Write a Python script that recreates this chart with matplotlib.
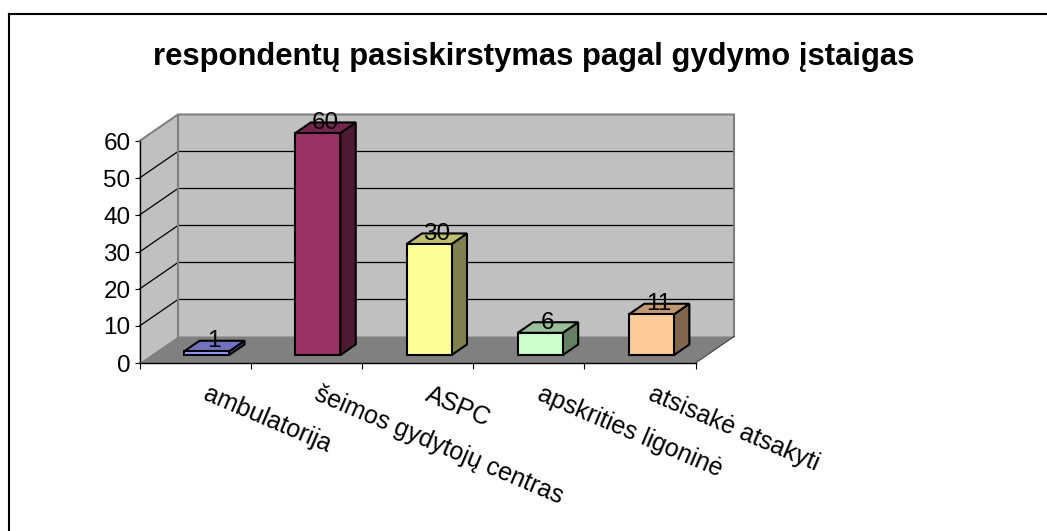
import matplotlib
matplotlib.use('Agg')
import matplotlib.pyplot as plt
from matplotlib.lines import Line2D
from matplotlib.patches import Polygon

categories = ['ambulatorija', 'šeimos gydytojų centras', 'ASPC', 'apskrities ligoninė', 'atsisakė atsakyti']
values = [1, 60, 30, 6, 11]
yticks = [0, 10, 20, 30, 40, 50, 60]
title = 'respondentų pasiskirstymas pagal gydymo įstaigas'

# front, top, side colour of each bar
front_colors = ['#9999FF', '#993366', '#FFFF99', '#CCFFCC', '#FFCC99']
top_colors = ['#7272BF', '#73264C', '#BFBF72', '#99BF99', '#BF9972']
side_colors = ['#4D4D80', '#4D1A33', '#808050', '#668066', '#80664D']

W, H = 1047, 531
plt.rcParams['font.family'] = ['Liberation Sans', 'DejaVu Sans']

fig = plt.figure(figsize=(W/100, H/100), dpi=100)
ax = fig.add_axes([139.5/W, 1-363/H, 556/W, 222/H])
ax.set_xlim(0, 5)
ax.set_ylim(0, 60)

# oblique offset of the back wall, in data units
dx = 38.5/(556/5)
dy = 26.5/(222/60)

def pt(x, y, d=0):
    return (x + d*dx, y + d*dy)

def face(points, fc, ec='none', lw=0, z=1):
    ax.add_patch(Polygon(points, closed=True, fc=fc, ec=ec, lw=lw, zorder=z,
                         clip_on=False, joinstyle='miter'))

# walls and floor
face([pt(0, 0, 1), pt(5, 0, 1), pt(5, 60, 1), pt(0, 60, 1)], '#C0C0C0')
face([pt(0, 0), pt(0, 0, 1), pt(0, 60, 1), pt(0, 60)], '#C0C0C0')
face([pt(0, 0), pt(5, 0), pt(5, 0, 1), pt(0, 0, 1)], '#808080')

for v in yticks[1:-1]:
    xs, ys = zip(pt(0, v), pt(0, v, 1), pt(5, v, 1))
    ax.plot(xs, ys, color='black', lw=0.9, zorder=2, clip_on=False)

xs, ys = zip(pt(0, 60), pt(0, 60, 1), pt(5, 60, 1), pt(5, 0, 1))
ax.plot(xs, ys, color='#808080', lw=1.5, zorder=2, clip_on=False, solid_joinstyle='miter')
xs, ys = zip(pt(0, 0, 1), pt(0, 60, 1))
ax.plot(xs, ys, color='#808080', lw=1.5, zorder=2, clip_on=False)
xs, ys = zip(pt(5, 0), pt(5, 0, 1))
ax.plot(xs, ys, color='#404040', lw=0.8, zorder=2, clip_on=False)

# bars
bar_w = 0.405
d0, d1 = 0.3, 0.7
for i, v in enumerate(values):
    l = i + 0.5 - bar_w/2
    r = l + bar_w
    face([pt(r, 0, d0), pt(r, 0, d1), pt(r, v, d1), pt(r, v, d0)], side_colors[i], 'black', 1.5, 3)
    face([pt(l, v, d0), pt(r, v, d0), pt(r, v, d1), pt(l, v, d1)], top_colors[i], 'black', 1.5, 3)
    face([pt(l, 0, d0), pt(r, 0, d0), pt(r, v, d0), pt(l, v, d0)], front_colors[i], 'black', 1.5, 4)
    ax.annotate(str(v), xy=pt(i + 0.5, v, 0.5), xytext=(0, 3.5), textcoords='offset points',
                ha='center', va='center', fontsize=17.5, color='black', zorder=6,
                annotation_clip=False)

# axes
for s in ['top', 'right']:
    ax.spines[s].set_visible(False)
for s in ['left', 'bottom']:
    ax.spines[s].set_linewidth(1.0)
    ax.spines[s].set_zorder(5)
ax.patch.set_visible(False)
ax.set_xticks(range(6))
ax.set_xticklabels([])
ax.set_yticks(yticks)
ax.tick_params(axis='x', length=4, width=0.8, direction='out')
ax.tick_params(axis='y', length=3.5, width=0.8, direction='out', pad=3, labelsize=17.5)

for i, c in enumerate(categories):
    ax.annotate(c, xy=(i + 0.5, 0), xytext=(5, -26.5), textcoords='offset points',
                ha='left', va='baseline', rotation=-23, rotation_mode='anchor',
                fontsize=18, annotation_clip=False)

fig.text(534/W, 1-57/H, title, ha='center', va='center', fontsize=22.3, fontweight='bold')

# chart frame, only top and left fall inside the picture
fig.add_artist(Line2D([9/W, 9/W], [0, 1-13.5/H], color='black', lw=1.5))
fig.add_artist(Line2D([9/W, 1], [1-13.5/H, 1-13.5/H], color='black', lw=1.5))

fig.savefig('out.png', dpi=100)
